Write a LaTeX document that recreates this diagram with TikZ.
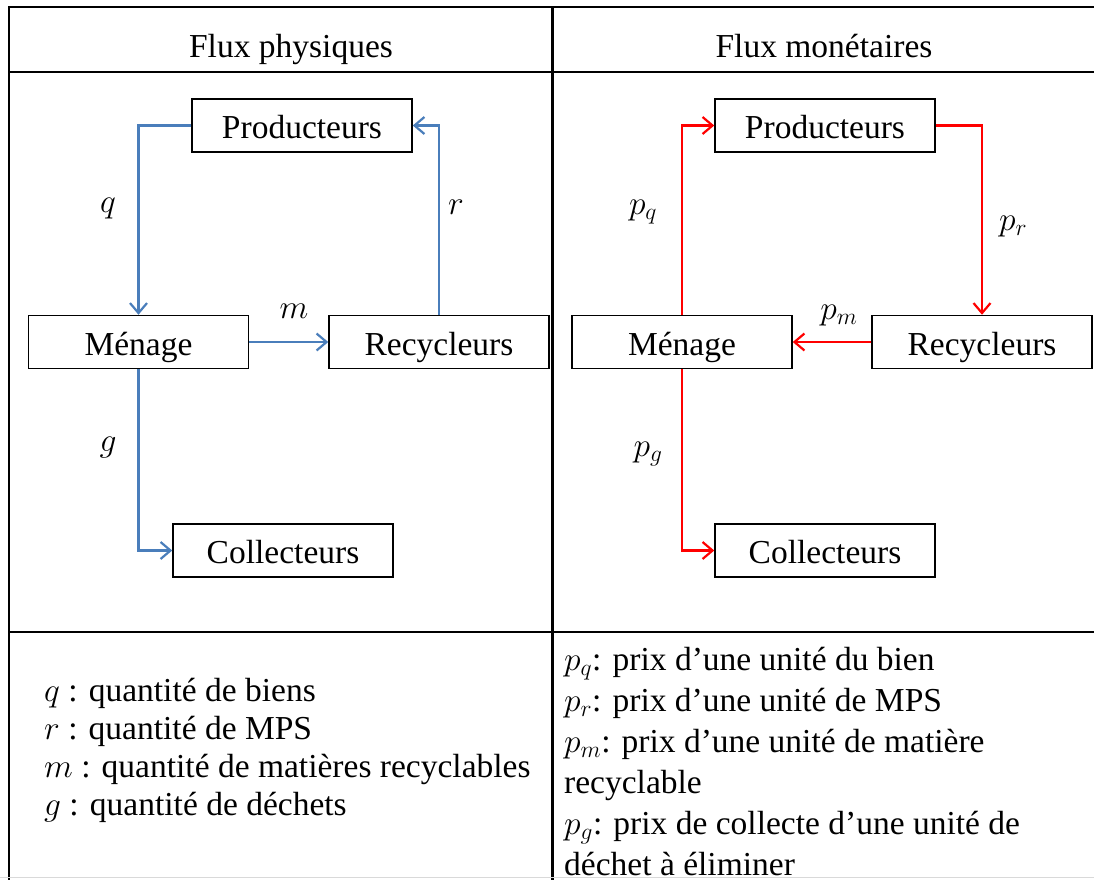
\RequirePackage{fix-cm}
\documentclass[tikz,border=0pt]{standalone}
\usepackage{fontspec}
\setmainfont{Liberation Serif}
\usetikzlibrary{arrows.meta}
\definecolor{flowblue}{RGB}{74,126,187}
\definecolor{flowred}{RGB}{255,0,0}
\tikzset{
  box/.style={draw=black, line width=1.5pt, minimum width=220pt, minimum height=53pt,
    inner sep=0pt, text height=26pt, text depth=0pt, font=\fontsize{33.5}{40}\selectfont},
  txt/.style={inner sep=0pt, font=\fontsize{33.5}{40}\selectfont},
  lbl/.style={inner sep=0pt, font=\fontsize{33.5}{40}\selectfont},
  bflow/.style={draw=flowblue, line width=2.2pt, -{Straight Barb[length=10pt,width=17pt,line width=2.2pt]}},
  rflow/.style={draw=flowred, line width=2.2pt, -{Straight Barb[length=10pt,width=17pt,line width=2.2pt]}},
  rule/.style={line width=2.4pt, draw=black},
  thinrule/.style={line width=1.2pt, draw=black}
}
\begin{document}
\begin{tikzpicture}[x=1pt,y=-1pt]
\useasboundingbox (0,0) rectangle (1094,879);
% table
\draw[rule] (9,7) -- (1100,7);
\draw[thinrule] (9,72) -- (1100,72);
\draw[rule] (9,632) -- (1100,632);
\draw[rule] (9,6) -- (9,880);
\draw[rule] (552.5,6) -- (552.5,880);
\draw[line width=1pt, draw=black!15] (0,877.5) -- (1094,877.5);
% headers
\node[txt, anchor=base] (h1) at (291,57) {Flux physiques};
\node[txt, anchor=base] (h2) at (824,57) {Flux monétaires};
% left boxes
\node[box] (pL) at (302,125.5) {Producteurs};
\node[box] (mL) at (138.5,342) {Ménage};
\node[box] (rL) at (439,342) {Recycleurs};
\node[box] (cL) at (283,550.5) {Collecteurs};
% right boxes
\node[box] (pR) at (825,125.5) {Producteurs};
\node[box] (mR) at (682,342) {Ménage};
\node[box] (rR) at (982,342) {Recycleurs};
\node[box] (cR) at (825,550.5) {Collecteurs};
% left flows
\draw[bflow] (pL.west) -| (mL.north);
\draw[bflow] (mL.east) -- (rL.west);
\draw[bflow] (rL.north) |- (pL.east);
\draw[bflow] (mL.south) |- (cL.west);
% right flows
\draw[rflow] (mR.north) |- (pR.west);
\draw[rflow] (pR.east) -| (rR.north);
\draw[rflow] (rR.west) -- (mR.east);
\draw[rflow] (mR.south) |- (cR.west);
% flow labels
\node[lbl] (lq) at (108,209) {$q$};
\node[lbl] (lr) at (456,207) {$r$};
\node[lbl] (lm) at (294,311) {$m$};
\node[lbl] (lg) at (108,448) {$g$};
\node[lbl] (lpq) at (643,212) {$p_q$};
\node[lbl] (lpr) at (1013,227) {$p_r$};
\node[lbl] (lpm) at (839,316) {$p_m$};
\node[lbl] (lpg) at (648,454) {$p_g$};
% legend left
\node[txt, anchor=base west] (a1) at (44,701) {$q$ : quantité de biens};
\node[txt, anchor=base west] (a2) at (44,739) {$r$ : quantité de MPS};
\node[txt, anchor=base west] (a3) at (44,777) {$m$ : quantité de matières recyclables};
\node[txt, anchor=base west] (a4) at (44,815) {$g$ : quantité de déchets};
% legend right
\node[txt, anchor=base west] (b1) at (564,670) {$p_q$: prix d’une unité du bien};
\node[txt, anchor=base west] (b2) at (564,711) {$p_r$: prix d’une unité de MPS};
\node[txt, anchor=base west] (b3) at (564,752) {$p_m$: prix d’une unité de matière};
\node[txt, anchor=base west] (b4) at (564,793) {recyclable};
\node[txt, anchor=base west] (b5) at (564,834) {$p_g$: prix de collecte d’une unité de};
\node[txt, anchor=base west] (b6) at (564,875) {déchet à éliminer};
\end{tikzpicture}
\end{document}
